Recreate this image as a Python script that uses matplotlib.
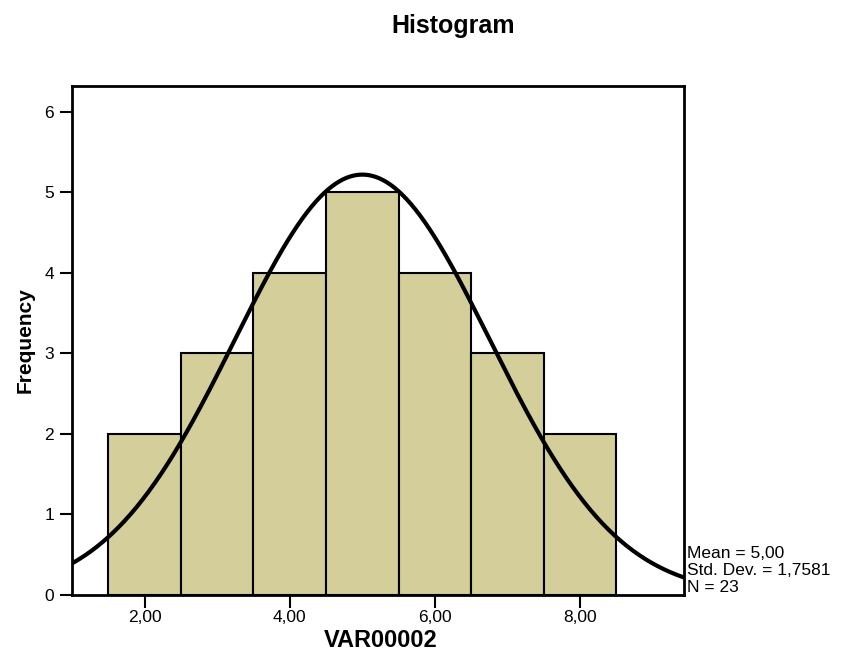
import numpy as np
import matplotlib
matplotlib.use('Agg')
import matplotlib.pyplot as plt

plt.rcParams['font.family'] = ['Liberation Sans', 'DejaVu Sans']

# histogram data (bin centres and frequencies)
bin_centres = [2, 3, 4, 5, 6, 7, 8]
counts = [2, 3, 4, 5, 4, 3, 2]
x_ticks = [2, 4, 6, 8]
x_ticklabels = ['2,00', '4,00', '6,00', '8,00']
y_ticks = [0, 1, 2, 3, 4, 5, 6]

# summary stats shown in the legend
mean_val = 5.00
sd_val = 1.7581
n_val = 23
bin_width = 1.0

fig = plt.figure(figsize=(8.51, 6.51), dpi=100)
ax = fig.add_axes([0.0846, 0.086, 0.719, 0.782])

ax.bar(bin_centres, counts, width=bin_width, color='#D3CE9A',
       edgecolor='black', linewidth=1.5, zorder=2)

# fitted normal curve
xs = np.linspace(1.0, 9.43, 400)
ys = n_val*bin_width/(sd_val*np.sqrt(2*np.pi))*np.exp(-0.5*((xs-mean_val)/sd_val)**2)
ax.plot(xs, ys, color='black', linewidth=3, zorder=3)

ax.set_xlim(1.0, 9.43)
ax.set_ylim(0, 6.32)
ax.set_xticks(x_ticks)
ax.set_xticklabels(x_ticklabels)
ax.set_yticks(y_ticks)
ax.tick_params(direction='out', length=9, width=1.5, labelsize=12.5, color='black')
ax.tick_params(axis='y', pad=4)
ax.tick_params(axis='x', pad=2)
for s in ax.spines.values():
    s.set_linewidth(2)
    s.set_color('black')

ax.set_xlabel('VAR00002', fontsize=17, fontweight='bold')
ax.xaxis.label.set_va('center')
ax.xaxis.set_label_coords(0.505, -0.089)
ax.set_ylabel('Frequency', fontsize=15, fontweight='bold', labelpad=7)
fig.suptitle('Histogram', x=0.532, y=0.96, va='center', fontsize=18, fontweight='bold')

ax.text(1.005, 0.097, 'Mean = 5,00\nStd. Dev. = 1,7581\nN = 23',
        transform=ax.transAxes, fontsize=12.5, va='top', ha='left',
        linespacing=1.2)

fig.savefig('out.png', dpi=100)
